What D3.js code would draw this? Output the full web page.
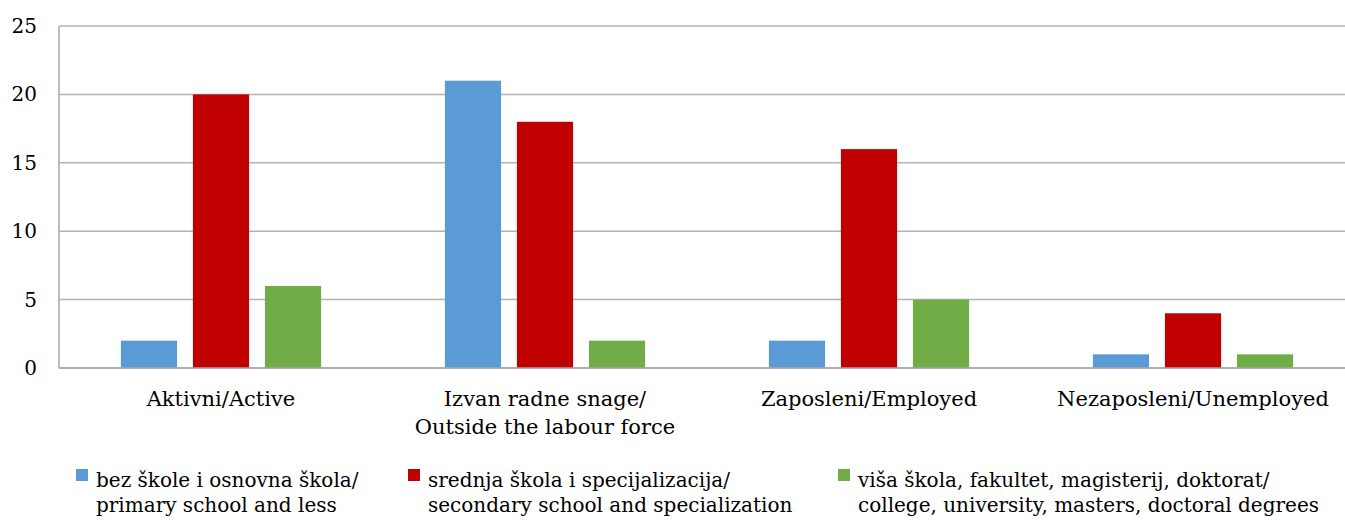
<!DOCTYPE html>
<html>
<head>
  <meta charset="utf-8">
  <title>Education by activity</title>
  <script src="https://cdnjs.cloudflare.com/ajax/libs/d3/7.8.5/d3.min.js"></script>
  <style>
    body { margin: 0; background: #fff; overflow: hidden; }
    text { font-family: "DejaVu Serif", serif; font-size: 20px; fill: #000; }
    .cat text { font-size: 21px; }
  </style>
</head>
<body>
<div id="chart"></div>
<script>

var categories = [['Aktivni/Active'], ['Izvan radne snage/', 'Outside the labour force'], ['Zaposleni/Employed'], ['Nezaposleni/Unemployed']];
var seriesNames = [
  ['bez škole i osnovna škola/', 'primary school and less'],
  ['srednja škola i specijalizacija/', 'secondary school and specialization'],
  ['viša škola, fakultet, magisterij, doktorat/', 'college, university, masters, doctoral degrees']
];
var primary = [2, 21, 2, 1];
var secondary = [20, 18, 16, 4];
var tertiary = [6, 2, 5, 1];
var yTicks = [0, 5, 10, 15, 20, 25];
var colors = ['#5b9bd5', '#c00000', '#70ad47'];

var series = [primary, secondary, tertiary];
var W = 1345, H = 520;
var plotLeft = 59, plotRight = 1355, y0px = 368, y25px = 26;

var svg = d3.select('#chart').append('svg')
  .attr('width', W)
  .attr('height', H);

// the plot area runs a little past the right edge of the picture
var x0 = d3.scaleBand()
  .domain(d3.range(categories.length))
  .range([plotLeft, plotRight])
  .padding(0);

var x1 = d3.scaleBand()
  .domain(d3.range(series.length))
  .range([x0.bandwidth() * 0.191, x0.bandwidth() * 0.809])
  .paddingInner(0.22)
  .paddingOuter(0);

var y = d3.scaleLinear()
  .domain([0, 25])
  .range([y0px, y25px]);

// gridlines
svg.append('g')
  .selectAll('line')
  .data(yTicks)
  .enter()
  .append('line')
  .attr('x1', plotLeft)
  .attr('x2', W)
  .attr('y1', function(d){ return y(d); })
  .attr('y2', function(d){ return y(d); })
  .attr('stroke', '#b3b3b3')
  .attr('stroke-width', 1.5);

// y axis line
svg.append('line')
  .attr('x1', plotLeft).attr('x2', plotLeft)
  .attr('y1', y(0)).attr('y2', y(25))
  .attr('stroke', '#a6a6a6')
  .attr('stroke-width', 1.5);

// y labels
svg.append('g')
  .selectAll('text')
  .data(yTicks)
  .enter()
  .append('text')
  .attr('x', 37)
  .attr('y', function(d){ return y(d); })
  .attr('dy', '0.35em')
  .attr('text-anchor', 'end')
  .text(function(d){ return d; });

// bars
var groups = svg.append('g')
  .attr('class', 'cat')
  .selectAll('g')
  .data(categories)
  .enter()
  .append('g')
  .attr('transform', function(d, i){ return 'translate(' + x0(i) + ',0)'; });

groups.selectAll('rect')
  .data(function(d, i){ return series.map(function(s, j){ return {s: j, v: s[i]}; }); })
  .enter()
  .append('rect')
  .attr('x', function(d){ return x1(d.s); })
  .attr('width', x1.bandwidth())
  .attr('y', function(d){ return y(d.v); })
  .attr('height', function(d){ return y(0) - y(d.v); })
  .attr('fill', function(d){ return colors[d.s]; });

// x axis line
svg.append('line')
  .attr('x1', plotLeft).attr('x2', W)
  .attr('y1', y(0)).attr('y2', y(0))
  .attr('stroke', '#a6a6a6')
  .attr('stroke-width', 1.5);

// category labels
groups.append('text')
  .attr('text-anchor', 'middle')
  .attr('x', x0.bandwidth() / 2)
  .attr('y', 406)
  .selectAll('tspan')
  .data(function(d){ return d; })
  .enter()
  .append('tspan')
  .attr('x', x0.bandwidth() / 2)
  .attr('dy', function(d, i){ return i ? 28 : 0; })
  .text(function(d){ return d; });

// legend
var legendX = [76, 408, 838];
var legend = svg.append('g')
  .selectAll('g')
  .data(seriesNames)
  .enter()
  .append('g')
  .attr('transform', function(d, i){ return 'translate(' + legendX[i] + ',0)'; });

legend.append('rect')
  .attr('x', 0).attr('y', 469)
  .attr('width', 12).attr('height', 12)
  .attr('fill', function(d, i){ return colors[i]; });

legend.append('text')
  .attr('y', 487)
  .selectAll('tspan')
  .data(function(d){ return d; })
  .enter()
  .append('tspan')
  .attr('x', 20)
  .attr('dy', function(d, i){ return i ? 25 : 0; })
  .text(function(d){ return d; });

</script>
</body>
</html>
